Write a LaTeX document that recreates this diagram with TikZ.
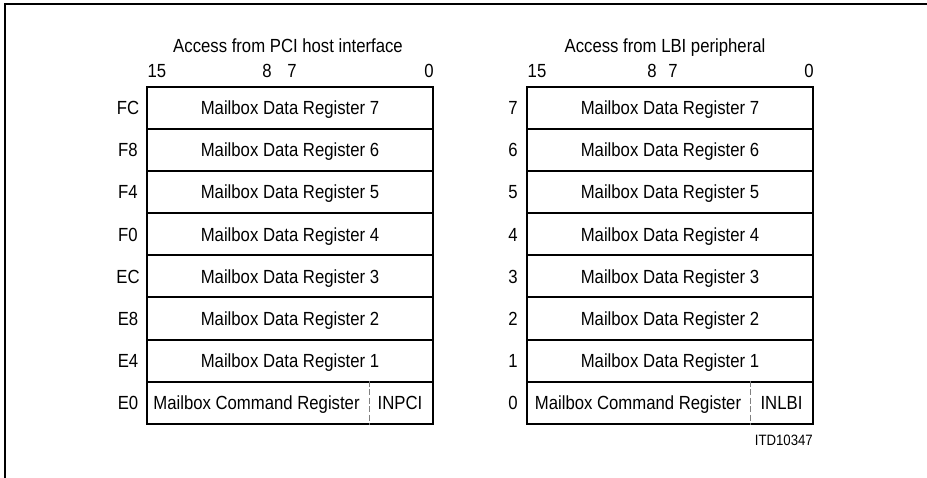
\documentclass[tikz,border=0pt]{standalone}
\usepackage{fontspec}
\newfontfamily\regfam[FakeStretch=0.88]{Liberation Sans}
\newcommand\rf{\regfam\fontsize{19pt}{21pt}\selectfont}
\newcommand\smallrf{\regfam\fontsize{15pt}{17pt}\selectfont}
\begin{document}
\begin{tikzpicture}[x=1pt,y=-1pt,
  reg/.style={draw, line width=2pt, minimum width=286pt, minimum height=42.1pt,
    inner sep=0pt, text height=13.5pt, text depth=0pt, font=\rf},
  lbl/.style={inner sep=0pt, text height=13.5pt, text depth=0pt, font=\rf},
  bit/.style={inner sep=0pt, anchor=base, font=\rf},
  divider/.style={draw=gray, line width=1pt, dash pattern=on 6pt off 2.5pt},
  frameline/.style={line width=1.5pt}]
\useasboundingbox (0,0) rectangle (927,478);
\draw[frameline] (927,4) -- (5,4) -- (5,478);

% titles
\node[bit] (tl) at (288,53) {Access from PCI host interface};
\node[bit] (tr) at (665,53) {Access from LBI peripheral};

% bit numbers left
\node[bit] (l15) at (157,78) {15};
\node[bit] (l8) at (267,78) {8};
\node[bit] (l7) at (292,78) {7};
\node[bit] (l0) at (429,78) {0};
% bit numbers right
\node[bit] (r15) at (537,78) {15};
\node[bit] (r8) at (652,78) {8};
\node[bit] (r7) at (673,78) {7};
\node[bit] (r0) at (809,78) {0};

% left rows
\node[reg] (L7) at (290,108.05) {Mailbox Data Register 7};
\node[reg] (L6) at (290,150.15) {Mailbox Data Register 6};
\node[reg] (L5) at (290,192.25) {Mailbox Data Register 5};
\node[reg] (L4) at (290,234.35) {Mailbox Data Register 4};
\node[reg] (L3) at (290,276.45) {Mailbox Data Register 3};
\node[reg] (L2) at (290,318.55) {Mailbox Data Register 2};
\node[reg] (L1) at (290,360.65) {Mailbox Data Register 1};
\node[reg] (L0) at (290,402.75) {};
\node[lbl] (Lcmd) at (256.5,402.75) {Mailbox Command Register};
\node[lbl] (Lin) at (400,402.75) {INPCI};
\draw[divider] (369,0 |- L0.north) -- (369,0 |- L0.south);

% right rows
\node[reg] (R7) at (670,108.05) {Mailbox Data Register 7};
\node[reg] (R6) at (670,150.15) {Mailbox Data Register 6};
\node[reg] (R5) at (670,192.25) {Mailbox Data Register 5};
\node[reg] (R4) at (670,234.35) {Mailbox Data Register 4};
\node[reg] (R3) at (670,276.45) {Mailbox Data Register 3};
\node[reg] (R2) at (670,318.55) {Mailbox Data Register 2};
\node[reg] (R1) at (670,360.65) {Mailbox Data Register 1};
\node[reg] (R0) at (670,402.75) {};
\node[lbl] (Rcmd) at (638,402.75) {Mailbox Command Register};
\node[lbl] (Rin) at (781.5,402.75) {INLBI};
\draw[divider] (750,0 |- R0.north) -- (750,0 |- R0.south);

% left addresses
\node[lbl] (aFC) at (128,108.05) {FC};
\node[lbl] (aF8) at (128,150.15) {F8};
\node[lbl] (aF4) at (128,192.25) {F4};
\node[lbl] (aF0) at (128,234.35) {F0};
\node[lbl] (aEC) at (128,276.45) {EC};
\node[lbl] (aE8) at (128,318.55) {E8};
\node[lbl] (aE4) at (128,360.65) {E4};
\node[lbl] (aE0) at (128,402.75) {E0};
% right indices
\node[lbl] (i7) at (513,108.05) {7};
\node[lbl] (i6) at (513,150.15) {6};
\node[lbl] (i5) at (513,192.25) {5};
\node[lbl] (i4) at (513,234.35) {4};
\node[lbl] (i3) at (513,276.45) {3};
\node[lbl] (i2) at (513,318.55) {2};
\node[lbl] (i1) at (513,360.65) {1};
\node[lbl] (i0) at (513,402.75) {0};

\node[inner sep=0pt, anchor=base east, font=\smallrf] (itd) at (813,446) {ITD10347};
\end{tikzpicture}
\end{document}
